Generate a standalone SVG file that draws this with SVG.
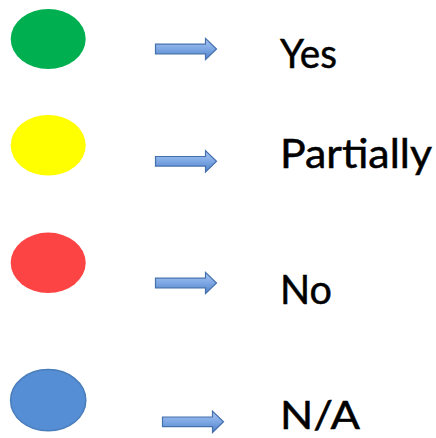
<svg xmlns="http://www.w3.org/2000/svg" width="436" height="438" viewBox="0 0 436 438">
  <defs>
    <linearGradient id="arrowFill" x1="0" y1="0" x2="0" y2="1">
      <stop offset="0" stop-color="#a9c6f0"/>
      <stop offset="0.5" stop-color="#7da7e4"/>
      <stop offset="1" stop-color="#4f80c6"/>
    </linearGradient>
    <!-- block arrow, origin at left end of shaft, centred vertically -->
    <path id="blockArrow" d="M0,-4.8 H50 V-10.7 L61,0 L50,10.7 V4.8 H0 Z"/>
  </defs>
  <style>
    .bg { fill: #ffffff; }
    .dot { stroke: none; }
    .arrow { fill: url(#arrowFill); stroke: #4470ad; stroke-width: 1.2; stroke-linejoin: miter; }
    .label { font-family: Lato, "Open Sans", "Liberation Sans", sans-serif; font-size: 40px; fill: #000000; stroke: #000000; stroke-width: 0.5px; }
  </style>
  <rect class="bg" x="0" y="0" width="436" height="438"/>

  <g id="node-yes">
    <ellipse class="dot" cx="48.2" cy="39" rx="37.5" ry="30" fill="#00b050"/>
    <text class="label" x="280" y="68" textLength="57" lengthAdjust="spacingAndGlyphs">Yes</text>
  </g>
  <g id="node-partially">
    <ellipse class="dot" cx="48.2" cy="145.3" rx="37.5" ry="30.3" fill="#ffff00"/>
    <text class="label" x="280" y="168" textLength="152" lengthAdjust="spacingAndGlyphs">Partially</text>
  </g>
  <g id="node-no">
    <ellipse class="dot" cx="48.2" cy="262.8" rx="37.5" ry="30.2" fill="#fd4444"/>
    <text class="label" x="280" y="304" textLength="52" lengthAdjust="spacingAndGlyphs">No</text>
  </g>
  <g id="node-na">
    <ellipse cx="48.2" cy="400.2" rx="37.6" ry="30.6" fill="#558ed5" stroke="#4a7ebb" stroke-width="1.5"/>
    <text class="label" x="280" y="429" font-size="39" textLength="80" lengthAdjust="spacingAndGlyphs" style="font-size:39px">N/A</text>
  </g>

  <g id="connectors">
    <use href="#blockArrow" class="arrow" x="155.5" y="49"/>
    <use href="#blockArrow" class="arrow" x="155.5" y="161.3"/>
    <use href="#blockArrow" class="arrow" x="155.5" y="283"/>
    <use href="#blockArrow" class="arrow" x="162.5" y="421.8"/>
  </g>
</svg>
